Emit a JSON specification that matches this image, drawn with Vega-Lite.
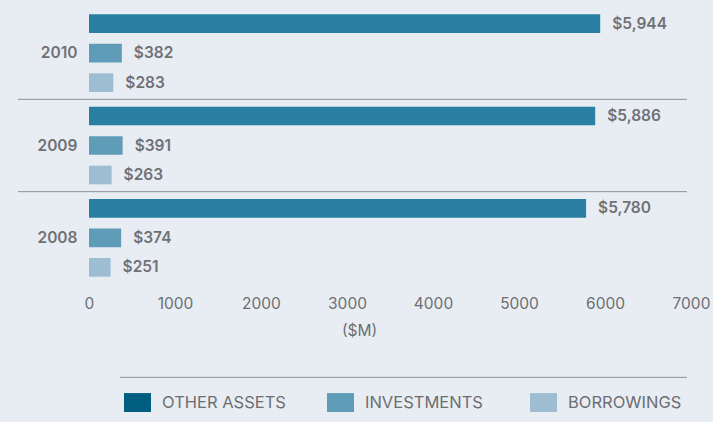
{
  "$schema": "https://vega.github.io/schema/vega-lite/v6.json",
  "autosize": {"type": "none"},
  "padding": {"left": 89, "top": 7, "right": 22, "bottom": 138},
  "width": 602,
  "height": 277,
  "background": "#e8edf4",
  "config": {
    "view": {"stroke": null},
    "font": "Inter"
  },
  "data": {
    "values": [
      {"year": "2010", "series": "OTHER ASSETS", "value": 5944},
      {"year": "2010", "series": "INVESTMENTS", "value": 382},
      {"year": "2010", "series": "BORROWINGS", "value": 283},
      {"year": "2009", "series": "OTHER ASSETS", "value": 5886},
      {"year": "2009", "series": "INVESTMENTS", "value": 391},
      {"year": "2009", "series": "BORROWINGS", "value": 263},
      {"year": "2008", "series": "OTHER ASSETS", "value": 5780},
      {"year": "2008", "series": "INVESTMENTS", "value": 374},
      {"year": "2008", "series": "BORROWINGS", "value": 251}
    ]
  },
  "layer": [
    {
      "layer": [
        {
          "mark": {"type": "bar"},
          "encoding": {
            "y": {
              "field": "year", "type": "nominal", "sort": ["2010", "2009", "2008"],
              "scale": {"paddingInner": 0, "paddingOuter": 0},
              "axis": {"title": null, "domain": false, "ticks": false, "grid": false, "labelPadding": 12, "labelFont": "Inter", "labelFontSize": 15.5, "labelFontWeight": 600, "labelColor": "#707174"}
            },
            "yOffset": {
              "field": "series", "type": "nominal", "sort": ["OTHER ASSETS", "INVESTMENTS", "BORROWINGS"],
              "scale": {"paddingInner": 0.366, "paddingOuter": 0.248}
            },
            "x": {
              "field": "value", "type": "quantitative",
              "scale": {"domain": [0, 7000], "nice": false},
              "axis": {
                "values": [0, 1000, 2000, 3000, 4000, 5000, 6000, 7000],
                "format": "d", "domain": false, "ticks": false, "grid": false,
                "labelPadding": 12, "labelFlush": false, "labelOverlap": false,
                "labelFont": "Inter", "labelFontSize": 15.5, "labelFontWeight": "normal", "labelColor": "#6d6e71",
                "title": "($M)", "titleFont": "Inter", "titleFontSize": 15.5, "titleFontWeight": "normal", "titleColor": "#6d6e71",
                "titleX": 270, "titleY": 46, "titleAlign": "center", "titleBaseline": "middle"
              }
            },
            "color": {
              "condition": {"test": "datum.series === 'OTHER ASSETS'", "value": "#2980a2"},
              "field": "series", "type": "nominal", "sort": ["OTHER ASSETS", "INVESTMENTS", "BORROWINGS"],
              "scale": {"domain": ["OTHER ASSETS", "INVESTMENTS", "BORROWINGS"], "range": ["#005f80", "#5f9cb8", "#9dbdd2"]},
              "legend": {
                "orient": "none", "legendX": 35, "legendY": 382,
                "direction": "horizontal", "columns": 3, "gridAlign": "all", "columnPadding": 41,
                "title": null, "padding": 0,
                "symbolType": "M-1,-0.7H1V0.7H-1Z", "symbolSize": 729, "symbolStrokeWidth": 0, "symbolOpacity": 1,
                "labelFont": "Inter", "labelFontSize": 16.5, "labelColor": "#6d6e71", "labelOffset": 11
              }
            }
          }
        },
        {
          "mark": {"type": "text", "align": "left", "baseline": "middle", "dx": 12, "font": "Inter", "fontSize": 15.5, "fontWeight": 600, "color": "#707174"},
          "encoding": {
            "y": {"field": "year", "type": "nominal", "sort": ["2010", "2009", "2008"]},
            "yOffset": {"field": "series", "type": "nominal", "sort": ["OTHER ASSETS", "INVESTMENTS", "BORROWINGS"]},
            "x": {"field": "value", "type": "quantitative"},
            "text": {"field": "value", "type": "quantitative", "format": "$,d"}
          }
        },
        {
          "transform": [{"filter": "datum.series === 'OTHER ASSETS' && datum.year !== '2010'"}],
          "mark": {"type": "rule", "color": "#8e9093", "strokeWidth": 1},
          "encoding": {
            "y": {"field": "year", "type": "nominal", "sort": ["2010", "2009", "2008"], "bandPosition": 0},
            "x": {"datum": -826, "type": "quantitative"},
            "x2": {"datum": 6953}
          }
        }
      ]
    },
    {
      "transform": [{"filter": "datum.series === 'OTHER ASSETS' && datum.year === '2010'"}],
      "mark": {"type": "rule", "color": "#8e9093", "strokeWidth": 1},
      "encoding": {
        "y": {"datum": -0.337, "type": "quantitative", "scale": {"domain": [0, 1], "nice": false, "zero": false}, "axis": null},
        "x": {"datum": 360, "type": "quantitative"},
        "x2": {"datum": 6953}
      }
    }
  ],
  "resolve": {"scale": {"y": "independent"}}
}
